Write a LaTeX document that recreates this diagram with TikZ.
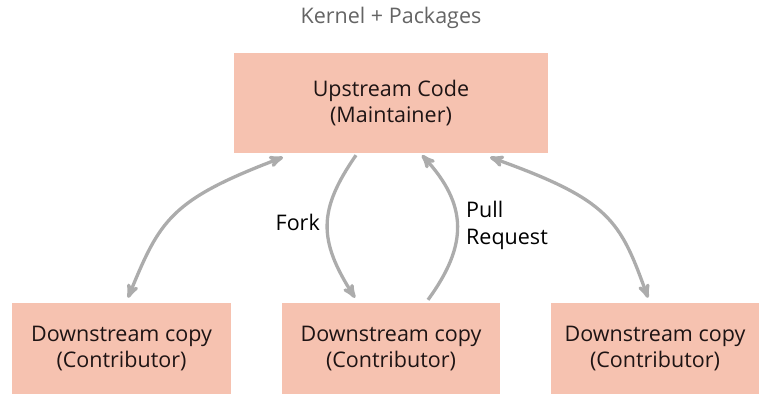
\documentclass[tikz,border=0pt]{standalone}
\usepackage{fontspec}
\setmainfont{Open Sans}
\usetikzlibrary{arrows}
\definecolor{boxfill}{RGB}{246,194,176}
\definecolor{arrowgray}{RGB}{172,172,172}
\definecolor{titlegray}{RGB}{100,100,100}
\definecolor{boxtext}{RGB}{30,20,20}
\tikzset{
    codebox/.style={fill=boxfill, text=boxtext, align=center, inner sep=0pt,
        font=\fontsize{21.5}{26.5}\selectfont},
    link/.style={draw=arrowgray, line width=3.3pt, >=stealth'}
}
\begin{document}
\begin{tikzpicture}[x=1pt,y=-1pt]
                \useasboundingbox (0,0) rectangle (759,401);
                \node[text=titlegray, font=\fontsize{21.5}{26}\selectfont] (title) at (391,18) {Kernel + Packages};
                \node[codebox, minimum width=314pt, minimum height=100pt] (up) at (391,103) {Upstream Code\\(Maintainer)};
                \node[codebox, minimum width=219pt, minimum height=91pt] (left) at (121.5,348.5) {Downstream copy\\(Contributor)};
                \node[codebox, minimum width=218pt, minimum height=91pt] (mid) at (391,348.5) {Downstream copy\\(Contributor)};
                \node[codebox, minimum width=208pt, minimum height=91pt] (right) at (655,348.5) {Downstream copy\\(Contributor)};
                \draw[link,<->] ([xshift=6.5pt,yshift=5pt]left.north) .. controls (160,220) and (170,200) .. ([xshift=-108pt,yshift=-4pt]up.south);
                \draw[link,->] ([xshift=-35pt,yshift=-2pt]up.south) .. controls (318,210) and (318,240) .. ([xshift=-36pt,yshift=5pt]mid.north);
                \draw[link,->] ([xshift=37pt,yshift=3pt]mid.north) .. controls (468,245) and (468,205) .. ([xshift=31pt,yshift=-2pt]up.south);
                \draw[link,<->] ([xshift=99pt,yshift=-4pt]up.south) .. controls (610,200) and (620,220) .. ([xshift=-7pt,yshift=5pt]right.north);
                \node[font=\fontsize{21.5}{26}\selectfont, anchor=east, inner sep=0pt] (fork) at (320,222) {Fork};
                \node[font=\fontsize{21.5}{27}\selectfont, anchor=west, align=left, inner sep=0pt] (pull) at (466,225) {Pull\\Request};
            \end{tikzpicture}
\end{document}
